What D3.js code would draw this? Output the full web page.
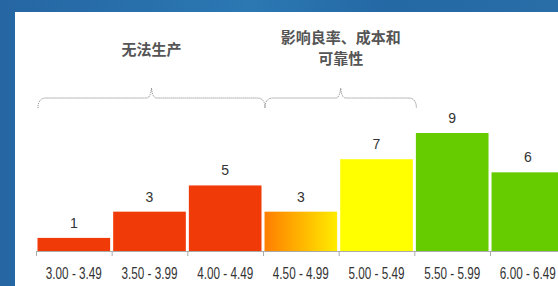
<!DOCTYPE html>
<html>
<head>
<meta charset="utf-8">
<script src="https://cdn.jsdelivr.net/npm/d3@7"></script>
<style>
  body { margin: 0; background: #236aa6; }
  svg { display: block; }
</style>
</head>
<body>
<svg width="558" height="286"></svg>
<script>
// bins and counts
const bins = ["3.00 - 3.49", "3.50 - 3.99", "4.00 - 4.49", "4.50 - 4.99", "5.00 - 5.49", "5.50 - 5.99", "6.00 - 6.49"];
const counts = [1, 3, 5, 3, 7, 9, 6];
const fills = ["#f03a08", "#f03a08", "#f03a08", "url(#orangeYellow)", "#ffff00", "#66cc00", "#66cc00"];
const groupLabels = [["无法生产"], ["影响良率、成本和", "可靠性"]];
const groupSpans = [[0, 3], [3, 5]]; // brace from bin start to bin start

const svg = d3.select('svg');

// blue page frame
const defs = svg.append('defs');
const bg = defs.append('linearGradient').attr('id', 'bgGrad').attr('x1', 0).attr('x2', 1);
bg.append('stop').attr('offset', 0).attr('stop-color', '#2566a3');
bg.append('stop').attr('offset', 0.45).attr('stop-color', '#2b78b3');
bg.append('stop').attr('offset', 0.7).attr('stop-color', '#2468a4');
bg.append('stop').attr('offset', 1).attr('stop-color', '#2a6ea8');
svg.append('rect').attr('width', 558).attr('height', 286).attr('fill', 'url(#bgGrad)');
svg.append('rect').attr('x', 15).attr('y', 12).attr('width', 543).attr('height', 274).attr('fill', '#fff');

const grad = defs.append('linearGradient').attr('id', 'orangeYellow').attr('x1', 0).attr('x2', 1);
grad.append('stop').attr('offset', 0).attr('stop-color', '#ff7e00');
grad.append('stop').attr('offset', 1).attr('stop-color', '#ffec00');

const x = d3.scaleBand().domain(bins).range([36, 565.7]).paddingInner(0.04).paddingOuter(0.02);
const y = d3.scaleLinear().domain([0, 9]).range([251, 133]);
const step = x.step();
const bandStart = (i) => x(bins[i]) - x.paddingInner() * step / 2;

// bars
svg.selectAll('.bar').data(counts).enter().append('rect')
    .attr('class', 'bar')
    .attr('x', (d, i) => x(bins[i]))
    .attr('y', d => y(d))
    .attr('width', x.bandwidth())
    .attr('height', d => y(0) - y(d))
    .attr('fill', (d, i) => fills[i]);

const font = '"Liberation Sans", Arial, sans-serif';

// value labels
svg.selectAll('.val').data(counts).enter().append('text')
    .attr('x', (d, i) => x(bins[i]) + x.bandwidth() / 2)
    .attr('y', d => y(d) - 10)
    .attr('text-anchor', 'middle')
    .style('font-family', font)
    .style('font-size', '14px')
    .style('fill', '#333')
    .text(d => d);

// axis
svg.append('line').attr('x1', 36).attr('x2', 558).attr('y1', 251.5).attr('y2', 251.5)
    .attr('stroke', '#aaa');
svg.selectAll('.tick').data(bins).enter().append('line')
    .attr('x1', (d, i) => bandStart(i) + 0.5).attr('x2', (d, i) => bandStart(i) + 0.5)
    .attr('y1', 251).attr('y2', 256)
    .attr('stroke', '#aaa');
svg.selectAll('.lbl').data(bins).enter().append('text')
    .attr('x', d => x(d) + x.bandwidth() / 2 - 28)
    .attr('y', 278.5)
    .attr('textLength', 56)
    .attr('lengthAdjust', 'spacingAndGlyphs')
    .style('font-family', font)
    .style('font-size', '16px')
    .style('fill', '#333')
    .text(d => d);

// dotted curly braces
groupSpans.forEach((s, k) => {
    const x0 = bandStart(s[0]) + 2, x1 = bandStart(s[1]) + 2;
    const xm = (x0 + x1) / 2, yl = 98, yt = 88, yb = 108;
    const p = `M${x0},${yb} Q${x0},${yl} ${x0 + 8},${yl} L${xm - 5},${yl} Q${xm - 1},${yl} ${xm},${yt} `
        + `Q${xm + 1},${yl} ${xm + 5},${yl} L${x1 - 8},${yl} Q${x1},${yl} ${x1},${yb}`;
    svg.append('path').attr('d', p)
        .attr('fill', 'none').attr('stroke', '#777').attr('stroke-width', 1)
        .attr('stroke-dasharray', '1,1');
    const lines = groupLabels[k];
    const top = lines.length === 1 ? 55 : 43;
    lines.forEach((t, j) => {
        svg.append('text')
            .attr('x', xm).attr('y', top + j * 21)
            .attr('text-anchor', 'middle')
            .style('font-family', '"Noto Sans CJK SC", sans-serif')
            .style('font-weight', 'bold')
            .style('font-size', '15px')
            .style('fill', '#555')
            .text(t);
    });
});
</script>
</body>
</html>
